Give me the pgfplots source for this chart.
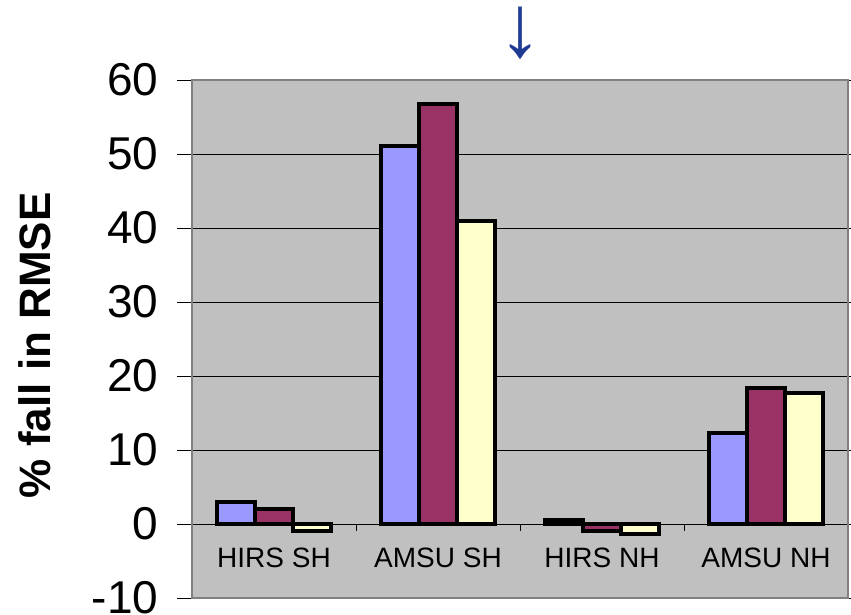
\documentclass[border=0pt]{standalone}
\usepackage{fontspec}
\setmainfont{Liberation Sans}
\usepackage{pgfplots}
\pgfplotsset{compat=1.18}
\definecolor{sBlue}{RGB}{153,153,255}
\definecolor{sPlum}{RGB}{153,51,102}
\definecolor{sYel}{RGB}{255,255,204}
\definecolor{plotbg}{RGB}{192,192,192}
\definecolor{bordergray}{RGB}{128,128,128}
\definecolor{arrowblue}{RGB}{31,58,147}
\begin{document}
\begin{tikzpicture}
\begin{axis}[
  scale only axis,
  width=656pt, height=518pt,
  at={(0,0)}, anchor=south west,
  xmin=-0.5, xmax=3.5,
  ymin=-10, ymax=60,
  ytick={-10,0,10,20,30,40,50,60},
  xtick={0,1,2,3},
  xticklabels={HIRS SH, AMSU SH, HIRS NH, AMSU NH},
  x tick style={draw=none},
  xticklabel style={anchor=center, yshift=55pt, font=\fontsize{28}{30}\selectfont},
  yticklabel style={font=\fontsize{46}{50}\selectfont, xshift=-15pt},
  /pgf/number format/assume math mode=true,
  tick align=outside,
  major tick length=15pt,
  y tick style={black, line width=0.8pt},
  ymajorgrids,
  grid style={black, line width=0.8pt},
  axis background/.style={fill=plotbg},
  axis line style={bordergray, line width=2.5pt},
  ylabel={\% fall in RMSE},
  ylabel style={at={(axis description cs:-0.2393,0.488)}, anchor=center, font=\bfseries\fontsize{44}{46}\selectfont},
  ybar=0pt,
  bar width=0.232,
  clip=false,
]
\addplot[fill=sBlue, draw=black, line width=4pt, bar shift=-0.232] coordinates {(0,3.0) (1,51.1) (2,0.5) (3,12.3)};
\addplot[fill=sPlum, draw=black, line width=4pt, bar shift=0] coordinates {(0,2.0) (1,56.8) (2,-0.9) (3,18.4)};
\addplot[fill=sYel, draw=black, line width=4pt, bar shift=0.232] coordinates {(0,-1.0) (1,40.9) (2,-1.4) (3,17.7)};
\foreach \xx in {0.5,1.5,2.5} {
  \edef\tmp{\noexpand\draw[black, line width=0.8pt] (axis cs:\xx,0) -- ([yshift=-7pt]axis cs:\xx,0);}
  \tmp
}
\end{axis}
\node[text=arrowblue, font=\fontsize{88}{92}\selectfont, inner sep=0pt] at (328pt,565pt) {↓};
\pgfresetboundingbox
\path[use as bounding box] (-192pt,-16pt) rectangle (659pt,598pt);
\end{tikzpicture}
\end{document}
